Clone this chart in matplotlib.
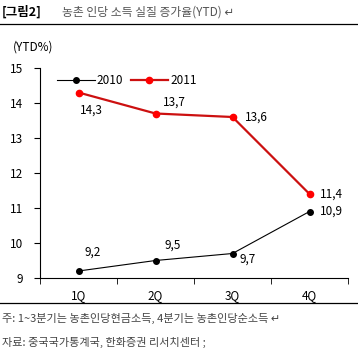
import matplotlib
matplotlib.use("Agg")
import matplotlib.pyplot as plt
from matplotlib.lines import Line2D

plt.rcParams['font.family'] = ['Noto Sans CJK KR', 'DejaVu Sans']

quarters = ['1Q', '2Q', '3Q', '4Q']
y2010 = [9.2, 9.5, 9.7, 10.9]
y2011 = [14.3, 13.7, 13.6, 11.4]
yticks = [9, 10, 11, 12, 13, 14, 15]

W, H = 358, 356
fig = plt.figure(figsize=(W / 100, H / 100), dpi=100)
ax = fig.add_axes([40 / W, 1 - 278 / H, 308 / W, 210 / H])

x = list(range(len(quarters)))
ax.plot(x, y2010, color='black', lw=0.8, marker='o', ms=4, label='2010')
ax.plot(x, y2011, color='#cc1010', lw=1.6, marker='o', ms=4.5,
        markerfacecolor='red', markeredgecolor='red', label='2011')

def fmt(v):
    return f"{v:.1f}".replace('.', ',')

# data labels (offsets in pixels)
off2010 = [(14, 19), (17, 15), (15, -6), (22, 0)]
for xi, v, (dx, dy) in zip(x, y2010, off2010):
    ax.annotate(fmt(v), (xi, v), xytext=(dx, dy), textcoords='offset pixels',
                ha='center', va='center', fontsize=8.5)
off2011 = [(13, -18), (19, 11), (24, 0), (22, 0)]
for xi, v, (dx, dy) in zip(x, y2011, off2011):
    ax.annotate(fmt(v), (xi, v), xytext=(dx, dy), textcoords='offset pixels',
                ha='center', va='center', fontsize=8.5)

ax.set_xlim(-0.5, 3.5)
ax.set_ylim(9, 15)
ax.set_yticks(yticks)
ax.set_xticks(x)
ax.set_xticklabels(quarters)
ax.set_xticks([-0.5, 0.5, 1.5, 2.5, 3.5], minor=True)
ax.tick_params(axis='x', which='major', length=0, pad=8, labelsize=8.5)
ax.tick_params(axis='x', which='minor', length=4, direction='out')
ax.tick_params(axis='y', length=4, direction='out', pad=8, labelsize=8.5)
for s in ['top', 'right']:
    ax.spines[s].set_visible(False)
for s in ['left', 'bottom']:
    ax.spines[s].set_linewidth(0.8)

ax.legend(loc='upper left', bbox_to_anchor=(0.02, 1.02), ncol=2, frameon=False,
          fontsize=8.5, handlelength=3.2, columnspacing=0.6, handletextpad=0.2)

# header / footer
fig.text(2 / W, 1 - 12 / H, '[그림2]', fontsize=9, fontweight='bold', va='center')
fig.text(62 / W, 1 - 12 / H, '농촌 인당 소득 실질 증가율(YTD) ↵', fontsize=8.5,
         color='#555555', va='center')
fig.add_artist(Line2D([0, 1], [1 - 24 / H, 1 - 24 / H], color='black', lw=0.9))
fig.text(13 / W, 1 - 47 / H, '(YTD%)', fontsize=8.5, va='center')
fig.add_artist(Line2D([0, 1], [1 - 303 / H, 1 - 303 / H], color='black', lw=0.9))
fig.text(2 / W, 1 - 318 / H, '주: 1~3분기는 농촌인당현금소득, 4분기는 농촌인당순소득 ↵',
         fontsize=8, color='#444444', va='center')
fig.text(2 / W, 1 - 342 / H, '자료: 중국국가통계국, 한화증권 리서치센터 ;',
         fontsize=8, color='#444444', va='center')

fig.savefig('out.png', dpi=100)
